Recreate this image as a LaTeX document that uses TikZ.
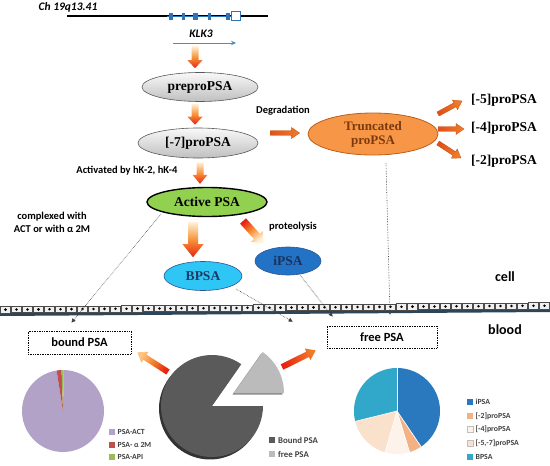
\documentclass[tikz,border=0pt]{standalone}
\usepackage{fontspec}
\setmainfont{Liberation Serif}
\newfontfamily\calib{Carlito}
\usetikzlibrary{shapes.geometric,arrows.meta,calc}
\definecolor{genblue}{HTML}{2E75B6}
\definecolor{klkblue}{HTML}{4A8CC4}
\definecolor{arrtop}{HTML}{FFF1D6}
\definecolor{arrmid}{HTML}{F7923A}
\definecolor{arrbot}{HTML}{E8230E}
\definecolor{orhead}{HTML}{F07C2A}
\definecolor{ortail}{HTML}{E0501A}
\definecolor{ordark}{HTML}{C0500F}
\definecolor{trfill}{HTML}{F79646}
\definecolor{trdraw}{HTML}{B8601E}
\definecolor{trtext}{HTML}{7B3A0E}
\definecolor{actgreen}{HTML}{92D050}
\definecolor{bpsafill}{HTML}{2EC6F4}
\definecolor{bpsadraw}{HTML}{2F5597}
\definecolor{navy}{HTML}{1F3864}
\definecolor{ipsafill}{HTML}{2272C6}
\definecolor{memb}{HTML}{2E4457}
\definecolor{darkpie}{HTML}{5A5A5A}
\definecolor{lightpie}{HTML}{BBBBBB}
\definecolor{lav}{HTML}{B3A2C7}
\definecolor{redpie}{HTML}{C0504D}
\definecolor{greenpie}{HTML}{9BBB59}
\definecolor{ipsapie}{HTML}{2A78BE}
\definecolor{p2pie}{HTML}{F4B183}
\definecolor{p4pie}{HTML}{FDF3EA}
\definecolor{p5pie}{HTML}{FAE1CC}
\definecolor{bpsapie}{HTML}{31A8CA}
% block arrow: [style]{A}{B}{shaft half}{head half}{head length}
\newcommand\barrow[6][]{%
  \coordinate (ba) at #2;
  \coordinate (bb) at #3;
  \coordinate (bh) at ($(bb)!#6!(ba)$);
  \shade[#1] ($(ba)!#4!90:(bb)$) -- ($(bh)!#4!90:(bb)$) -- ($(bh)!#5!90:(bb)$) -- (bb)
    -- ($(bh)!#5!-90:(bb)$) -- ($(bh)!#4!-90:(bb)$) -- ($(ba)!#4!-90:(bb)$) -- cycle;}
% pie slice: {cx}{cy}{r}{a1}{a2}{style}
\newcommand\mypie[6]{\fill[#6] (#1,#2) -- plot[domain=#4:#5,samples=60] ({#1+#3*cos(\x)},{#2-#3*sin(\x)}) -- cycle;}
\begin{document}
\begin{tikzpicture}[x=1pt,y=-1pt,
  sfb/.style={font=\calib\bfseries\fontsize{10.5}{12.5}\selectfont, inner sep=0pt, align=center},
  elbox/.style={ellipse, inner sep=0pt, font=\bfseries\fontsize{13.5}{14}\selectfont, align=center},
  grayel/.style={elbox, top color=gray!5, bottom color=gray!50, draw=gray!70!black, line width=0.6pt},
  dotarr/.style={densely dotted, line width=0.6pt, black!75, -{Triangle[length=4pt,width=4pt]}},
  dotbox/.style={draw, densely dotted, line width=0.7pt, fill=white, minimum width=103pt, minimum height=23pt, inner sep=0pt, font=\calib\bfseries\fontsize{12.5}{14}\selectfont},
  leg/.style={fill=#1, minimum size=5.5pt, inner sep=0pt},
  legt/.style={anchor=west, inner sep=0pt, text=black!75, font=\calib\bfseries\fontsize{7.8}{9}\selectfont},
  ptext/.style={anchor=west, inner sep=0pt, font=\bfseries\fontsize{13.5}{14}\selectfont},
  varrow/.style={top color=arrtop, bottom color=arrbot, middle color=arrmid},
  oarr/.style={top color=orhead, bottom color=ortail, draw=ordark, line width=0.3pt}]
\useasboundingbox (0,0) rectangle (550,466);

% ---- gene ----
\node[inner sep=0pt, font=\calib\bfseries\itshape\fontsize{11.5}{13}\selectfont] (ch) at (68,7) {Ch 19q13.41};
\coordinate (chl) at (67,16);
\coordinate (chr) at (268,16);
\draw[line width=1.3pt] (chl) -- (chr);
\draw[line width=1pt, genblue] (167,16) -- (241,16);
\foreach \xx/\ww in {171/4,183/3,195.5/5,209/3,228/4}
  \fill[genblue] (\xx-\ww/2,12.5) rectangle (\xx+\ww/2,19.5);
\draw[genblue, fill=white, line width=0.8pt] (231.5,11.5) rectangle (240,20.5);
\node[inner sep=0pt, font=\calib\bfseries\itshape\fontsize{11.5}{13}\selectfont] (klk) at (201,34) {KLK3};
\coordinate (ka) at (173,43);
\coordinate (kb) at (236,43);
\draw[klkblue, line width=1pt, -{Stealth[length=5pt,width=4.5pt]}] (ka) -- (kb);

% ---- cell nodes ----
\node[grayel, minimum width=116pt, minimum height=29pt] (pre) at (200,87) {preproPSA};
\node[grayel, minimum width=120pt, minimum height=30pt] (m7) at (198,143) {[-7]proPSA};
\node[elbox, fill=actgreen, draw=black, line width=1.4pt, minimum width=120pt, minimum height=29pt] (act) at (207,202) {Active PSA};
\node[elbox, fill=bpsafill, draw=bpsadraw, line width=0.6pt, text=navy, minimum width=78pt, minimum height=29pt] (bpsa) at (203,276) {BPSA};
\node[elbox, fill=ipsafill, draw=bpsadraw, line width=0.6pt, text=navy!90!black, minimum width=66pt, minimum height=28pt] (ipsa) at (288,261) {iPSA};
\node[elbox, fill=trfill, draw=trdraw, line width=0.8pt, text=trtext, minimum width=130pt, minimum height=42pt, font=\bfseries\fontsize{13}{14}\selectfont] (trunc) at (373,134) {Truncated\\proPSA};
\node[ptext] (p5) at (471,100) {[-5]proPSA};
\node[ptext] (p4) at (471,128) {[-4]proPSA};
\node[ptext] (p2) at (471,161) {[-2]proPSA};

\node[sfb] (deg) at (283,111) {Degradation};
\node[sfb] (actby) at (127,171) {Activated by hK-2, hK-4};
\node[sfb, font=\calib\bfseries\fontsize{10.5}{13}\selectfont] (cplx) at (52,222) {complexed with\\ACT or with α 2M};
\node[sfb] (prot) at (293,227) {proteolysis};
\node[sfb, font=\calib\bfseries\fontsize{14}{16}\selectfont] (cell) at (505,277) {cell};
\node[sfb, font=\calib\bfseries\fontsize{14}{16}\selectfont] (blood) at (505,330) {blood};

% ---- block arrows ----
\barrow[varrow]{($(pre.north)+(-5,-26)$)}{($(pre.north)+(-5,-4)$)}{3.5pt}{7.5pt}{8pt}
\barrow[varrow]{($(pre.south)+(-5,2)$)}{($(m7.north)+(-3,-3)$)}{3.5pt}{7.5pt}{8pt}
\barrow[varrow]{($(m7.south)+(2,4)$)}{($(act.north)+(-7,-3)$)}{3.5pt}{7.5pt}{9pt}
\barrow[varrow]{($(act.south)+(-14,5)$)}{($(bpsa.north)+(-10,-4)$)}{5pt}{10.5pt}{13pt}
\barrow[top color=arrtop, bottom color=arrbot, middle color=arrmid, shading angle=-138]{($(act.center)+(36,19)$)}{($(ipsa.center)+(-25,-18)$)}{4pt}{8.5pt}{9pt}
\barrow[oarr, shading angle=-90]{($(m7.east)+(12,-10)$)}{($(trunc.west)+(-8,-1)$)}{2.3pt}{5.5pt}{8pt}
\barrow[oarr, shading angle=-60]{($(trunc.center)+(65,-20)$)}{($(p5.west)+(-9,1)$)}{2.3pt}{5.5pt}{8pt}
\barrow[oarr, shading angle=-90]{($(trunc.center)+(65,-5)$)}{($(p4.west)+(-7,1)$)}{2.3pt}{5.5pt}{8pt}
\barrow[oarr, shading angle=-123]{($(trunc.center)+(65,9)$)}{($(p2.west)+(-10,-3)$)}{2.3pt}{5.5pt}{8pt}

% ---- membrane ----
\fill[memb] (0,312.5) -- (550,308.5) -- (550,312) -- (0,316) -- cycle;
\foreach \i in {0,...,49}{
  \pgfmathsetmacro\xa{\i*11}
  \pgfmathsetmacro\ya{306.5-4*\i/50}
  \draw[black!70, fill=gray!12, line width=0.4pt] (\xa+0.4,\ya) rectangle (\xa+10.6,\ya+6.2);
  \fill (\xa+5.5,\ya+3.1) circle[radius=1.4pt];
}

% ---- boxes ----
\node[dotbox] (bnd) at (79.5,342.5) {bound PSA};
\node[dotbox, minimum width=110pt, minimum height=22pt] (free) at (382,337) {free PSA};

% ---- dotted arrows ----
\draw[dotarr] ($(act.center)+(-46,12)$) -- ($(bnd.north)+(-8,-8)$);
\draw[dotarr] ($(bpsa.center)+(33,13)$) -- ($(free.north west)+(-34,-4)$);
\draw[dotarr] ($(ipsa.center)+(12,14)$) -- ($(free.north west)+(6,-9)$);
\draw[dotarr] ($(trunc.south)+(13,8)$) -- ($(free.north)+(8,-11)$);

% ---- big pie ----
\coordinate (bigc) at (212,406);
\mypie{210}{408.5}{51}{55}{360}{black!80}
\mypie{212}{406}{51}{55}{360}{darkpie}
\mypie{232.5}{394.5}{50}{0}{55}{black!45}
\mypie{234}{393}{50}{0}{55}{lightpie}
\barrow[top color=arrtop!60!orange, bottom color=arrbot, middle color=orhead, shading angle=57]{($(bigc)+(-44,-34)$)}{($(bnd.south east)+(6,-2)$)}{3pt}{6.5pt}{9pt}
\barrow[top color=orhead, bottom color=arrbot, shading angle=-63]{($(bigc)+(70,-39)$)}{($(free.south west)+(-11,2)$)}{3pt}{6.5pt}{9pt}
\node[leg=darkpie] (lb) at (272,440) {};
\node[legt, font=\calib\bfseries\fontsize{8.8}{10}\selectfont] at ($(lb.east)+(3,0)$) {Bound PSA};
\node[leg=lightpie] (lf) at (272,454) {};
\node[legt, font=\calib\bfseries\fontsize{8.8}{10}\selectfont] at ($(lf.east)+(3,0)$) {free PSA};

% ---- left pie ----
\mypie{63}{411}{41}{99}{449}{lav}
\mypie{63}{411}{41}{92}{99}{redpie}
\mypie{63}{411}{41}{89}{92}{greenpie}
\node[leg=lav] (la) at (112,432) {};
\node[legt] at ($(la.east)+(2.5,0)$) {PSA-ACT};
\node[leg=redpie] (lr) at (112,445) {};
\node[legt] at ($(lr.east)+(2.5,0)$) {PSA- α 2M};
\node[leg=greenpie] (lg) at (112,457) {};
\node[legt] at ($(lg.east)+(2.5,0)$) {PSA-API};

% ---- right pie ----
\mypie{397}{411}{43}{-56}{90}{ipsapie}
\mypie{397}{411}{43}{-73}{-56}{p2pie}
\mypie{397}{411}{43}{-106}{-73}{p4pie}
\mypie{397}{411}{43}{194}{254}{p5pie}
\mypie{397}{411}{43}{90}{194}{bpsapie}
\foreach \aa in {90,-56,-73,-106,194}
  \draw[white, line width=0.7pt] (397,411) -- ({397+43*cos(\aa)},{411-43*sin(\aa)});
\node[leg=ipsapie] (r1) at (470,402) {};
\node[legt] at ($(r1.east)+(2.5,0)$) {iPSA};
\node[leg=p2pie] (r2) at (470,416) {};
\node[legt] at ($(r2.east)+(2.5,0)$) {[-2]proPSA};
\node[leg=p4pie, draw=gray!50, line width=0.3pt] (r3) at (470,429) {};
\node[legt] at ($(r3.east)+(2.5,0)$) {[-4]proPSA};
\node[leg=p5pie, draw=gray!50, line width=0.3pt] (r4) at (470,443) {};
\node[legt] at ($(r4.east)+(2.5,0)$) {[-5,-7]proPSA};
\node[leg=bpsapie] (r5) at (470,457) {};
\node[legt] at ($(r5.east)+(2.5,0)$) {BPSA};
\end{tikzpicture}
\end{document}
